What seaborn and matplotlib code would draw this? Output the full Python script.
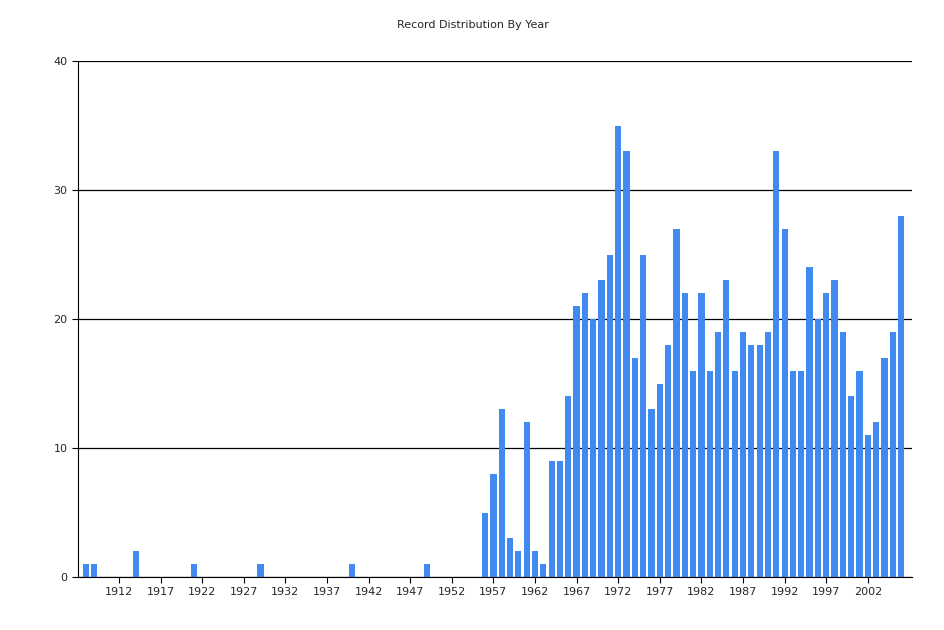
import matplotlib
matplotlib.use("Agg")
import matplotlib.pyplot as plt
import seaborn as sns
import pandas as pd

years = [1908, 1909, 1914, 1921, 1929, 1940, 1949] + list(range(1956, 2007))
counts = [1, 1, 2, 1, 1, 1, 1,
          5, 8, 13, 3, 2, 12, 2, 1, 9, 9,
          14, 21, 22, 20, 23, 25, 35, 33, 17, 25,
          13, 15, 18, 27, 22, 16, 22, 16, 19, 23,
          16, 19, 18, 18, 19, 33, 27, 16, 16, 24,
          20, 22, 23, 19, 14, 16, 11, 12, 17, 19, 28]
tick_years = list(range(1912, 2006, 5))

df = pd.DataFrame({"year": years, "count": counts})

sns.set_style("white")
fig = plt.figure(figsize=(9.45, 6.3), dpi=100)
ax = fig.add_axes([0.0825, 0.084, 0.8825, 0.819])
sns.barplot(data=df, x="year", y="count", native_scale=True, color="#3f89f0",
            saturation=1, width=0.75, linewidth=0, edgecolor="none", ax=ax)
ax.set_xlim(1907.07, 2007.3)
ax.set_ylim(0, 40)
ax.set_yticks([0, 10, 20, 30, 40])
ax.set_xticks(tick_years)
ax.yaxis.grid(True, color="black", linewidth=0.9)
ax.set_axisbelow(True)
for s in ["top", "right"]:
    ax.spines[s].set_visible(False)
for s in ["left", "bottom"]:
    ax.spines[s].set_color("black")
ax.tick_params(axis="both", labelsize=8, length=4, left=True, bottom=True, color="black")
ax.set_xlabel("")
ax.set_ylabel("")
fig.text(0.5, 0.96, "Record Distribution By Year", ha="center", va="center", fontsize=8)
fig.savefig("out.png", dpi=100)
